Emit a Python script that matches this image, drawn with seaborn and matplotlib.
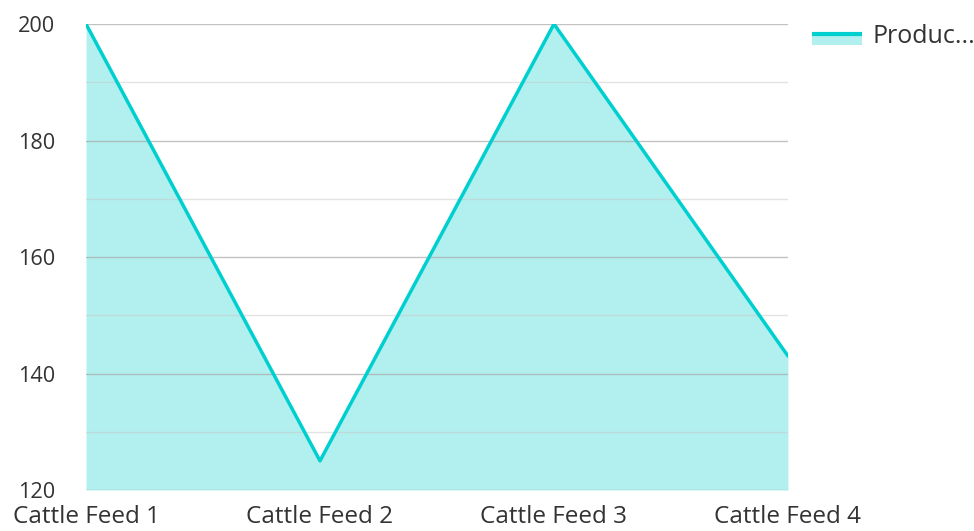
import matplotlib
matplotlib.use("Agg")
from matplotlib import pyplot as plt
from matplotlib.lines import Line2D
from matplotlib.patches import Rectangle
from matplotlib.ticker import MultipleLocator
import pandas as pd
import seaborn as sns

# data
categories = ["Cattle Feed 1", "Cattle Feed 2", "Cattle Feed 3", "Cattle Feed 4"]
production = [200, 125, 200, 143]
series_name = "Produc..."

line_color = "#00cfd0"
fill_color = "#b2efef"
text_color = "#333333"


class AreaHandler:
    # legend swatch: line on top, filled band under it
    def legend_artist(self, legend, orig_handle, fontsize, handlebox):
        x0, y0 = handlebox.xdescent, handlebox.ydescent
        w, h = handlebox.width, handlebox.height
        top = y0 + h * 0.55
        rect = Rectangle((x0, top - 8.5), w, 8.5,
                         facecolor=fill_color, edgecolor="none",
                         transform=handlebox.get_transform())
        line = Line2D([x0, x0 + w], [top, top], color=line_color, lw=3,
                      solid_capstyle="butt", transform=handlebox.get_transform())
        handlebox.add_artist(rect)
        handlebox.add_artist(line)
        return rect


sns.set_style("white")
plt.rcParams["font.family"] = ["Open Sans", "DejaVu Sans"]

df = pd.DataFrame({"x": range(len(categories)), "value": production})

fig = plt.figure(figsize=(9.74, 5.31), dpi=100)
ax = fig.add_axes([0.0883, 0.0772, 0.7207, 0.8776])

ax.fill_between(df["x"], 120, df["value"], color=fill_color, lw=0, zorder=1)
sns.lineplot(data=df, x="x", y="value", ax=ax, color=line_color, lw=2.5, zorder=3)

ax.set_xlim(0, len(categories) - 1)
ax.set_ylim(120, 200)
ax.yaxis.set_major_locator(MultipleLocator(20))
ax.yaxis.set_minor_locator(MultipleLocator(10))
ax.grid(which="major", axis="y", color="#a8a8a8", lw=1, alpha=0.7, zorder=2)
ax.grid(which="minor", axis="y", color="#c8c8c8", lw=1, alpha=0.5, zorder=2)
ax.set_axisbelow(False)
ax.set_xticks(df["x"])
ax.set_xticklabels(categories)
ax.tick_params(axis="both", which="both", length=0, labelcolor=text_color)
ax.tick_params(axis="x", labelsize=17.5, pad=11)
ax.tick_params(axis="y", labelsize=15.6, pad=22)
for s in ax.spines.values():
    s.set_visible(False)
ax.set_xlabel("")
ax.set_ylabel("")

leg = fig.legend([object()], [series_name], loc="center left",
                 bbox_to_anchor=(0.8337, 0.931), frameon=False, fontsize=18,
                 borderpad=0, borderaxespad=0,
                 handlelength=2.0, handletextpad=0.4,
                 handler_map={object: AreaHandler()})
for t in leg.get_texts():
    t.set_color(text_color)

fig.savefig("out.png", dpi=100)
